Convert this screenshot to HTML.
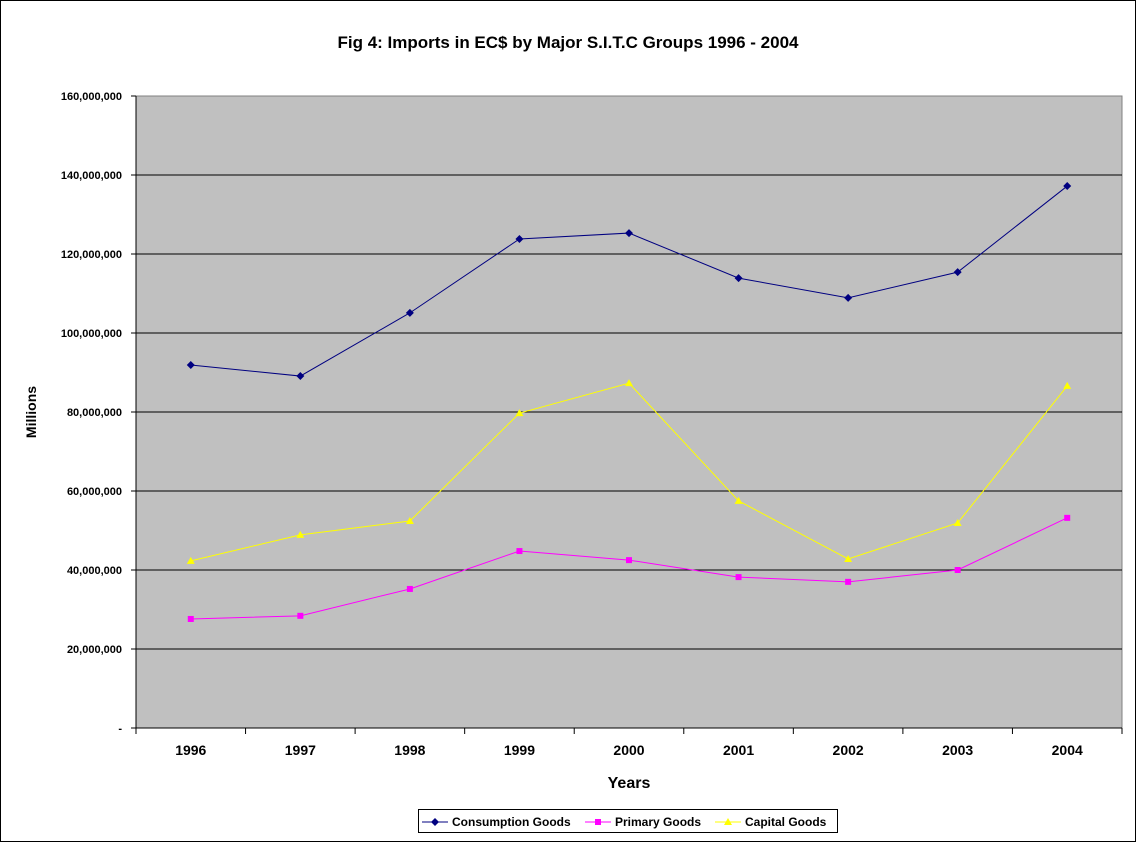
<!DOCTYPE html>
<html><head><meta charset="utf-8"><style>
body{margin:0;background:#fff;}
svg{display:block;font-family:"Liberation Sans",Arial,sans-serif;}
</style></head><body>
<svg id="c" width="1137" height="843">
<rect x="0.5" y="0.5" width="1135" height="841" fill="#fff" stroke="#000"/>
<text x="568" y="48" text-anchor="middle" font-size="17" font-weight="bold">Fig 4: Imports in EC$ by Major S.I.T.C Groups 1996 - 2004</text>
<rect x="136" y="96" width="986" height="632" fill="#c0c0c0" stroke="#808080"/>
<g id="grid"></g><g id="series"></g>
<text x="36" y="412" text-anchor="middle" font-size="14" font-weight="bold" transform="rotate(-90 36 412)">Millions</text>
<text x="629" y="788" text-anchor="middle" font-size="16" font-weight="bold">Years</text>
<g>
<rect x="418.5" y="809.5" width="419" height="23" fill="#fff" stroke="#000"/>
<line x1="422" y1="822" x2="448" y2="822" stroke="#000080"/><polygon points="435,818 439,822 435,826 431,822" fill="#000080"/>
<text x="452" y="826" font-size="12" font-weight="bold">Consumption Goods</text>
<line x1="585" y1="822" x2="611" y2="822" stroke="#ff00ff"/><rect x="595" y="819" width="6" height="6" fill="#ff00ff"/>
<text x="615" y="826" font-size="12" font-weight="bold">Primary Goods</text>
<line x1="715" y1="822" x2="741" y2="822" stroke="#ffff00"/><polygon points="728,818 732,825 724,825" fill="#ffff00"/>
<text x="745" y="826" font-size="12" font-weight="bold">Capital Goods</text>
</g>
</svg>
<script>
const years=["1996","1997","1998","1999","2000","2001","2002","2003","2004"];
const consumption=[91.9,89.1,105.1,123.8,125.3,113.9,108.9,115.4,137.2];
const primary=[27.6,28.4,35.2,44.8,42.5,38.2,37.0,40.0,53.2];
const capital=[42.3,48.9,52.4,79.7,87.3,57.5,42.8,51.9,86.6];
const yTicks=[0,20,40,60,80,100,120,140,160];
const yTickLabels=["-","20,000,000","40,000,000","60,000,000","80,000,000","100,000,000","120,000,000","140,000,000","160,000,000"];
const NS="http://www.w3.org/2000/svg";
const X0=136,X1=1122,Y0=728,Y1=96;
const bw=(X1-X0)/years.length;
function xs(i){return X0+bw*(i+0.5);}
function ys(v){return Y0-(v/160)*(Y0-Y1);}
function mk(t,a,p){const e=document.createElementNS(NS,t);for(const k in a)e.setAttribute(k,a[k]);p.appendChild(e);return e;}
const g=document.getElementById('grid');
yTicks.forEach((v,i)=>{const y=ys(v);
 if(v>0&&v<160){const l=mk('line',{x1:X0,x2:X1,y1:y,y2:y,stroke:'#000'},g);
 
 }
 mk('line',{x1:X0-5,x2:X0,y1:y,y2:y,stroke:'#000'},g);
 const t=mk('text',{x:X0-14,y:y+4,'text-anchor':'end','font-size':11,'font-weight':'bold'},g);t.textContent=yTickLabels[i];
 
 });
mk('line',{x1:X0,x2:X0,y1:Y1,y2:Y0,stroke:'#000'},g);
mk('line',{x1:X0,x2:X1,y1:Y0,y2:Y0,stroke:'#000'},g);
for(let i=0;i<=years.length;i++){const x=X0+bw*i;mk('line',{x1:x,x2:x,y1:Y0,y2:Y0+6,stroke:'#000'},g);}
years.forEach((yr,i)=>{const t=mk('text',{x:xs(i),y:755,'text-anchor':'middle','font-size':14,'font-weight':'bold'},g);t.textContent=yr;
 
 });
const s=document.getElementById('series');
function draw(data,color,shape,name){
 const pl=mk('polyline',{points:data.map((v,i)=>xs(i)+','+ys(v)).join(' '),fill:'none',stroke:color,'stroke-width':1},s);
 
 
 data.forEach((v,i)=>{const x=xs(i),y=ys(v);let m;
  if(shape==='d')m=mk('polygon',{points:`${x},${y-4} ${x+4},${y} ${x},${y+4} ${x-4},${y}`,fill:color},s);
  else if(shape==='s')m=mk('rect',{x:x-3,y:y-3,width:6,height:6,fill:color},s);
  else m=mk('polygon',{points:`${x},${y-4} ${x+4},${y+3} ${x-4},${y+3}`,fill:color},s);
  
  });}
draw(consumption,'#000080','d','consumption');
draw(primary,'#ff00ff','s','primary');
draw(capital,'#ffff00','t','capital');
</script>
</body></html>
